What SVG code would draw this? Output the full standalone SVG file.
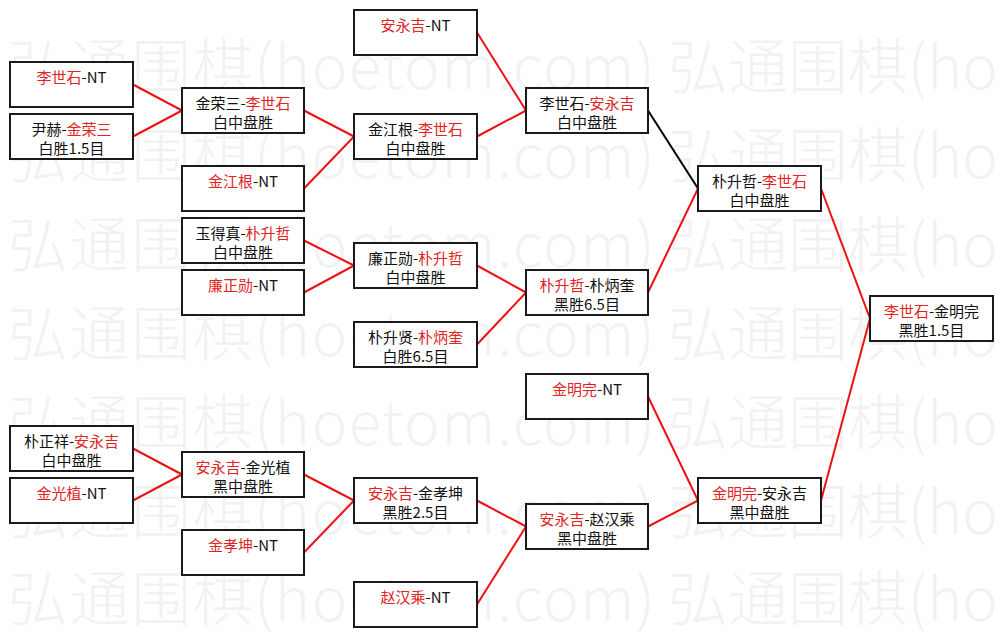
<svg xmlns="http://www.w3.org/2000/svg" width="1003" height="637" viewBox="0 0 1003 637">
<style>
.wm{font-family:"Noto Sans CJK SC","Noto Sans",sans-serif;font-size:60px;font-weight:300;fill:#f2f2f2}
.b{fill:#ffffff;stroke:#1a1a1a;stroke-width:2}
.t{font-family:"Noto Sans CJK SC","Noto Sans",sans-serif;font-size:15px;fill:#111111;text-anchor:middle}
.r{fill:#e02424}
.c line{stroke:#ee1111;stroke-width:2}
.c line.k{stroke:#000000}
</style>
<rect width="1003" height="637" fill="#ffffff"/>
<g id="watermark">
<text class="wm" x="8" y="89" textLength="647" lengthAdjust="spacing">弘通围棋(hoetom.com)</text>
<text class="wm" x="668" y="89">弘通围棋(ho</text>
<text class="wm" x="8" y="178" textLength="647" lengthAdjust="spacing">弘通围棋(hoetom.com)</text>
<text class="wm" x="668" y="178">弘通围棋(ho</text>
<text class="wm" x="8" y="267" textLength="647" lengthAdjust="spacing">弘通围棋(hoetom.com)</text>
<text class="wm" x="668" y="267">弘通围棋(ho</text>
<text class="wm" x="8" y="356" textLength="647" lengthAdjust="spacing">弘通围棋(hoetom.com)</text>
<text class="wm" x="668" y="356">弘通围棋(ho</text>
<text class="wm" x="8" y="445" textLength="647" lengthAdjust="spacing">弘通围棋(hoetom.com)</text>
<text class="wm" x="668" y="445">弘通围棋(ho</text>
<text class="wm" x="8" y="534" textLength="647" lengthAdjust="spacing">弘通围棋(hoetom.com)</text>
<text class="wm" x="668" y="534">弘通围棋(ho</text>
<text class="wm" x="8" y="621" textLength="647" lengthAdjust="spacing">弘通围棋(hoetom.com)</text>
<text class="wm" x="668" y="621">弘通围棋(ho</text>
</g>
<g id="connectors" class="c">
<line x1="133" y1="84.5" x2="182" y2="110.5"/>
<line x1="133" y1="136.5" x2="182" y2="110.5"/>
<line x1="304" y1="110.5" x2="354" y2="136.5"/>
<line x1="304" y1="188.5" x2="354" y2="136.5"/>
<line x1="477" y1="32.5" x2="526" y2="110.5"/>
<line x1="477" y1="136.5" x2="526" y2="110.5"/>
<line class="k" x1="648" y1="110.5" x2="698" y2="188.5"/>
<line x1="648" y1="292.5" x2="698" y2="188.5"/>
<line x1="304" y1="240.5" x2="354" y2="265.5"/>
<line x1="304" y1="292.5" x2="354" y2="265.5"/>
<line x1="477" y1="265.5" x2="526" y2="292.5"/>
<line x1="477" y1="344.5" x2="526" y2="292.5"/>
<line x1="821" y1="188.5" x2="870" y2="318.5"/>
<line x1="821" y1="500.5" x2="870" y2="318.5"/>
<line x1="648" y1="396.5" x2="698" y2="500.5"/>
<line x1="648" y1="526.5" x2="698" y2="500.5"/>
<line x1="133" y1="448.5" x2="182" y2="474.5"/>
<line x1="133" y1="500.5" x2="182" y2="474.5"/>
<line x1="304" y1="474.5" x2="354" y2="500.5"/>
<line x1="304" y1="552.5" x2="354" y2="500.5"/>
<line x1="477" y1="500.5" x2="526" y2="526.5"/>
<line x1="477" y1="604.5" x2="526" y2="526.5"/>
</g>
<g id="n1"><rect class="b" x="10" y="62" width="123" height="45"/><text class="t" x="71.5" y="83"><tspan class="r">李世石</tspan>-NT</text></g>
<g id="n2"><rect class="b" x="10" y="114" width="123" height="45"/><text class="t" x="71.5" y="135">尹赫-<tspan class="r">金荣三</tspan></text><text class="t" x="71.5" y="154">白胜1.5目</text></g>
<g id="n3"><rect class="b" x="182" y="88" width="122" height="45"/><text class="t" x="243" y="109">金荣三-<tspan class="r">李世石</tspan></text><text class="t" x="243" y="128">白中盘胜</text></g>
<g id="n4"><rect class="b" x="182" y="166" width="122" height="45"/><text class="t" x="243" y="187"><tspan class="r">金江根</tspan>-NT</text></g>
<g id="n5"><rect class="b" x="182" y="218" width="122" height="45"/><text class="t" x="243" y="239">玉得真-<tspan class="r">朴升哲</tspan></text><text class="t" x="243" y="258">白中盘胜</text></g>
<g id="n6"><rect class="b" x="182" y="270" width="122" height="45"/><text class="t" x="243" y="291"><tspan class="r">廉正勋</tspan>-NT</text></g>
<g id="n7"><rect class="b" x="354" y="10" width="123" height="45"/><text class="t" x="415.5" y="31"><tspan class="r">安永吉</tspan>-NT</text></g>
<g id="n8"><rect class="b" x="354" y="114" width="123" height="45"/><text class="t" x="415.5" y="135">金江根-<tspan class="r">李世石</tspan></text><text class="t" x="415.5" y="154">白中盘胜</text></g>
<g id="n9"><rect class="b" x="354" y="243" width="123" height="45"/><text class="t" x="415.5" y="264">廉正勋-<tspan class="r">朴升哲</tspan></text><text class="t" x="415.5" y="283">白中盘胜</text></g>
<g id="n10"><rect class="b" x="354" y="322" width="123" height="45"/><text class="t" x="415.5" y="343">朴升贤-<tspan class="r">朴炳奎</tspan></text><text class="t" x="415.5" y="362">白胜6.5目</text></g>
<g id="n11"><rect class="b" x="526" y="88" width="122" height="45"/><text class="t" x="587" y="109">李世石-<tspan class="r">安永吉</tspan></text><text class="t" x="587" y="128">白中盘胜</text></g>
<g id="n12"><rect class="b" x="526" y="270" width="122" height="45"/><text class="t" x="587" y="291"><tspan class="r">朴升哲</tspan>-朴炳奎</text><text class="t" x="587" y="310">黑胜6.5目</text></g>
<g id="n13"><rect class="b" x="526" y="374" width="122" height="45"/><text class="t" x="587" y="395"><tspan class="r">金明完</tspan>-NT</text></g>
<g id="n14"><rect class="b" x="526" y="504" width="122" height="45"/><text class="t" x="587" y="525"><tspan class="r">安永吉</tspan>-赵汉乘</text><text class="t" x="587" y="544">黑中盘胜</text></g>
<g id="n15"><rect class="b" x="698" y="166" width="123" height="45"/><text class="t" x="759.5" y="187">朴升哲-<tspan class="r">李世石</tspan></text><text class="t" x="759.5" y="206">白中盘胜</text></g>
<g id="n16"><rect class="b" x="698" y="478" width="123" height="45"/><text class="t" x="759.5" y="499"><tspan class="r">金明完</tspan>-安永吉</text><text class="t" x="759.5" y="518">黑中盘胜</text></g>
<g id="n17"><rect class="b" x="870" y="296" width="123" height="45"/><text class="t" x="931.5" y="317"><tspan class="r">李世石</tspan>-金明完</text><text class="t" x="931.5" y="336">黑胜1.5目</text></g>
<g id="n18"><rect class="b" x="10" y="426" width="123" height="45"/><text class="t" x="71.5" y="447">朴正祥-<tspan class="r">安永吉</tspan></text><text class="t" x="71.5" y="466">白中盘胜</text></g>
<g id="n19"><rect class="b" x="10" y="478" width="123" height="45"/><text class="t" x="71.5" y="499"><tspan class="r">金光植</tspan>-NT</text></g>
<g id="n20"><rect class="b" x="182" y="452" width="122" height="45"/><text class="t" x="243" y="473"><tspan class="r">安永吉</tspan>-金光植</text><text class="t" x="243" y="492">黑中盘胜</text></g>
<g id="n21"><rect class="b" x="182" y="530" width="122" height="45"/><text class="t" x="243" y="551"><tspan class="r">金孝坤</tspan>-NT</text></g>
<g id="n22"><rect class="b" x="354" y="478" width="123" height="45"/><text class="t" x="415.5" y="499"><tspan class="r">安永吉</tspan>-金孝坤</text><text class="t" x="415.5" y="518">黑胜2.5目</text></g>
<g id="n23"><rect class="b" x="354" y="582" width="123" height="45"/><text class="t" x="415.5" y="603"><tspan class="r">赵汉乘</tspan>-NT</text></g>
</svg>
